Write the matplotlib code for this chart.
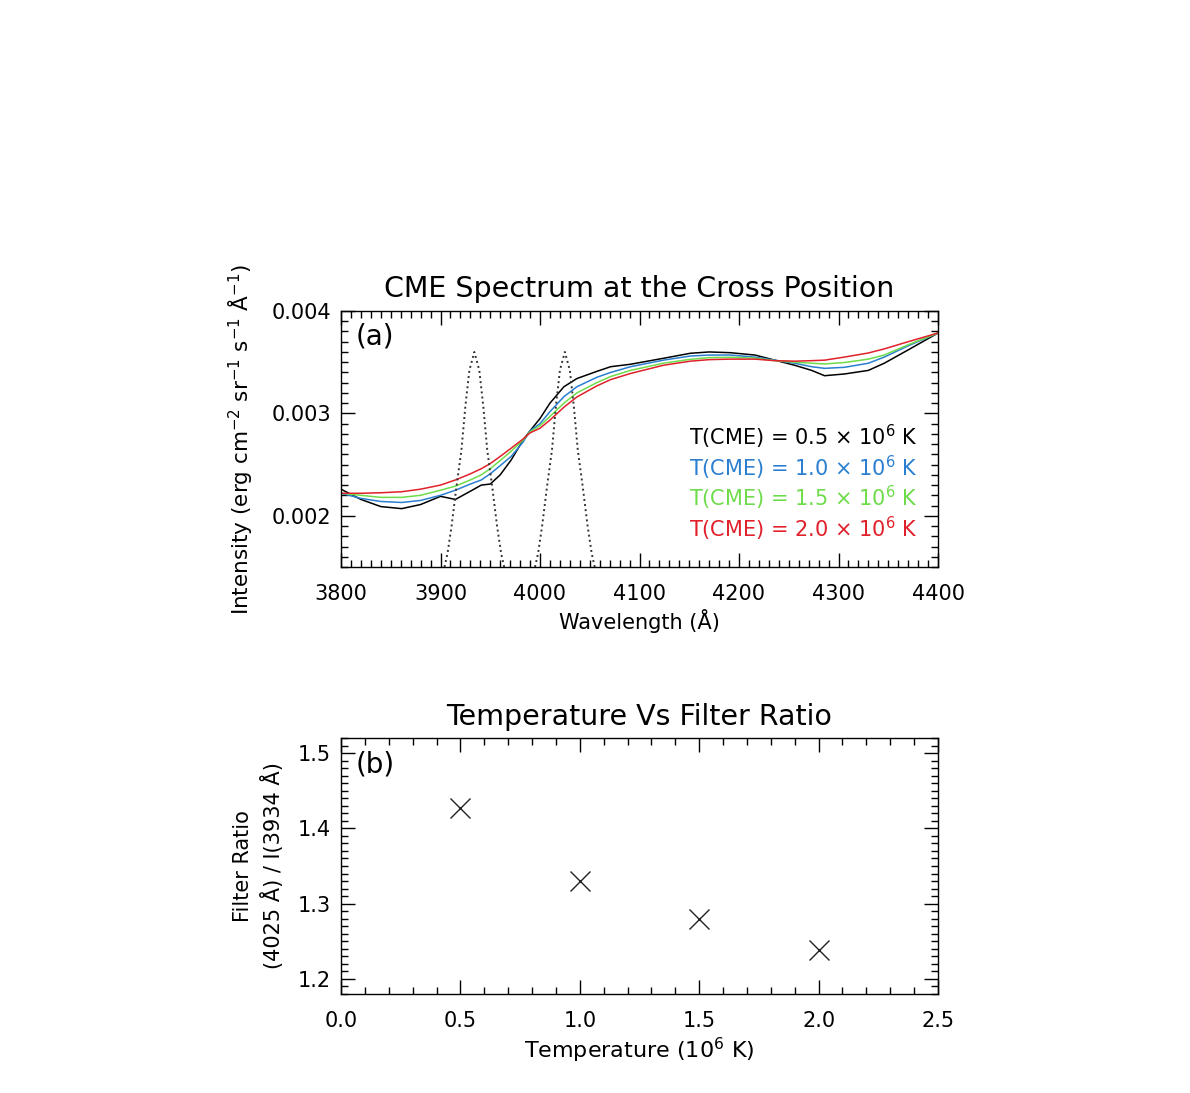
import matplotlib
matplotlib.use('Agg')
import matplotlib.pyplot as plt
from matplotlib.ticker import MultipleLocator

plt.rcParams['font.family'] = ['DejaVu Sans']
plt.rcParams['mathtext.fontset'] = 'dejavusans'

# spectrum, intensity in 1e-3 erg cm-2 sr-1 s-1 A-1
wl = [3800, 3820, 3840, 3861, 3880, 3900, 3915, 3930, 3941, 3950, 3960, 3971, 3983, 3990,
      4000, 4010, 4024, 4037, 4057, 4071, 4091, 4124, 4151, 4170, 4191, 4216, 4236, 4256,
      4273, 4286, 4306, 4330, 4346, 4370, 4400]
spec_05 = [2.26, 2.16, 2.09, 2.07, 2.11, 2.19, 2.16, 2.24, 2.30, 2.31, 2.40, 2.545, 2.74, 2.83,
           2.95, 3.10, 3.26, 3.34, 3.41, 3.456, 3.48, 3.538, 3.587, 3.60, 3.593, 3.57, 3.52, 3.47,
           3.42, 3.368, 3.385, 3.42, 3.49, 3.62, 3.785]
spec_10 = [2.22, 2.17, 2.14, 2.13, 2.15, 2.20, 2.25, 2.31, 2.35, 2.41, 2.49, 2.58, 2.72, 2.83,
           2.90, 3.017, 3.163, 3.26, 3.352, 3.40, 3.456, 3.52, 3.56, 3.57, 3.57, 3.55, 3.52, 3.49,
           3.456, 3.44, 3.45, 3.49, 3.55, 3.66, 3.785]
spec_15 = [2.22, 2.20, 2.18, 2.18, 2.20, 2.25, 2.29, 2.35, 2.40, 2.46, 2.54, 2.63, 2.74, 2.82,
           2.88, 2.97, 3.10, 3.20, 3.30, 3.36, 3.42, 3.49, 3.528, 3.545, 3.548, 3.54, 3.515, 3.50,
           3.49, 3.483, 3.497, 3.53, 3.57, 3.67, 3.785]
spec_20 = [2.22, 2.22, 2.225, 2.235, 2.26, 2.30, 2.35, 2.41, 2.46, 2.51, 2.58, 2.66, 2.75, 2.81,
           2.855, 2.935, 3.06, 3.16, 3.268, 3.33, 3.39, 3.47, 3.51, 3.525, 3.53, 3.53, 3.515, 3.51,
           3.515, 3.52, 3.55, 3.59, 3.63, 3.70, 3.785]

# filter profiles (scaled)
f1_wl = [3904, 3907, 3911, 3916, 3921, 3925, 3929, 3934, 3939, 3943, 3947, 3952, 3957, 3961, 3964]
f2_wl = [3995, 3998, 4002, 4007, 4012, 4016, 4020, 4025, 4030, 4034, 4038, 4043, 4048, 4052, 4055]
f_val = [1.50, 1.63, 1.89, 2.28, 2.64, 3.07, 3.42, 3.60, 3.42, 3.07, 2.64, 2.28, 1.89, 1.63, 1.50]

labels = ['T(CME) = 0.5 $\\times$ 10$^6$ K', 'T(CME) = 1.0 $\\times$ 10$^6$ K',
          'T(CME) = 1.5 $\\times$ 10$^6$ K', 'T(CME) = 2.0 $\\times$ 10$^6$ K']
colors = ['black', '#2a7fd0', '#6edc4a', '#e0202a']

temps = [0.5, 1.0, 1.5, 2.0]
ratio = [1.427, 1.330, 1.279, 1.239]

fig = plt.figure(figsize=(11.9, 10.93), dpi=100)
W, H = 1190., 1093.

def style(ax):
    ax.tick_params(which='both', direction='in', top=True, right=True, labelsize=15, width=1)
    ax.tick_params(which='major', length=10)
    ax.tick_params(which='minor', length=5)
    ax.tick_params(axis='x', pad=12)
    ax.tick_params(axis='y', pad=7)
    for s in ax.spines.values():
        s.set_linewidth(1)

# (a)
ax1 = fig.add_axes([341/W, 1-567/H, 597/W, 256/H])
for spec, c in zip([spec_05, spec_10, spec_15, spec_20], colors):
    ax1.plot(wl, [v*1e-3 for v in spec], color=c, linewidth=1.1)
ax1.plot(f1_wl, [v*1e-3 for v in f_val], color='#333333', linestyle=':', linewidth=1.4)
ax1.plot(f2_wl, [v*1e-3 for v in f_val], color='#333333', linestyle=':', linewidth=1.4)
ax1.set_xlim(3800, 4400)
ax1.set_ylim(0.0015, 0.004)
ax1.xaxis.set_major_locator(MultipleLocator(100))
ax1.xaxis.set_minor_locator(MultipleLocator(10))
ax1.yaxis.set_major_locator(MultipleLocator(0.001))
ax1.yaxis.set_minor_locator(MultipleLocator(0.0001))
ax1.set_yticks([0.002, 0.003, 0.004])
ax1.set_yticklabels(['0.002', '0.003', '0.004'])
style(ax1)
ax1.set_xlabel('Wavelength (Å)', fontsize=15, labelpad=4)
ax1.set_ylabel('Intensity (erg cm$^{-2}$ sr$^{-1}$ s$^{-1}$ Å$^{-1}$)', fontsize=15.5, labelpad=12)
ax1.text(0.025, 0.9, '(a)', transform=ax1.transAxes, fontsize=20, va='center')
for i, (lab, c) in enumerate(zip(labels, colors)):
    ax1.text(0.9665, 0.508 - i*0.12, lab, color=c, fontsize=15, ha='right', va='center',
             transform=ax1.transAxes)
fig.text(639.5/W, 1-289/H, 'CME Spectrum at the Cross Position', fontsize=20.5, ha='center', va='center')

# (b)
ax2 = fig.add_axes([341/W, 1-994/H, 597/W, 256/H])
ax2.plot(temps, ratio, linestyle='none', marker='x', markersize=14, markeredgewidth=1, color='#222222')
ax2.set_xlim(0, 2.5)
ax2.set_ylim(1.18, 1.52)
ax2.xaxis.set_major_locator(MultipleLocator(0.5))
ax2.xaxis.set_minor_locator(MultipleLocator(0.1))
ax2.yaxis.set_major_locator(MultipleLocator(0.1))
ax2.yaxis.set_minor_locator(MultipleLocator(0.01))
style(ax2)
ax2.set_xlabel('Temperature (10$^6$ K)', fontsize=16, labelpad=4)
ax2.set_ylabel('Filter Ratio\n(4025 Å) / I(3934 Å)', fontsize=15, labelpad=10, linespacing=1.45)
ax2.text(0.025, 0.898, '(b)', transform=ax2.transAxes, fontsize=20, va='center')
fig.text(639.5/W, 1-717/H, 'Temperature Vs Filter Ratio', fontsize=20.5, ha='center', va='center')

fig.savefig('out.png', dpi=100)
